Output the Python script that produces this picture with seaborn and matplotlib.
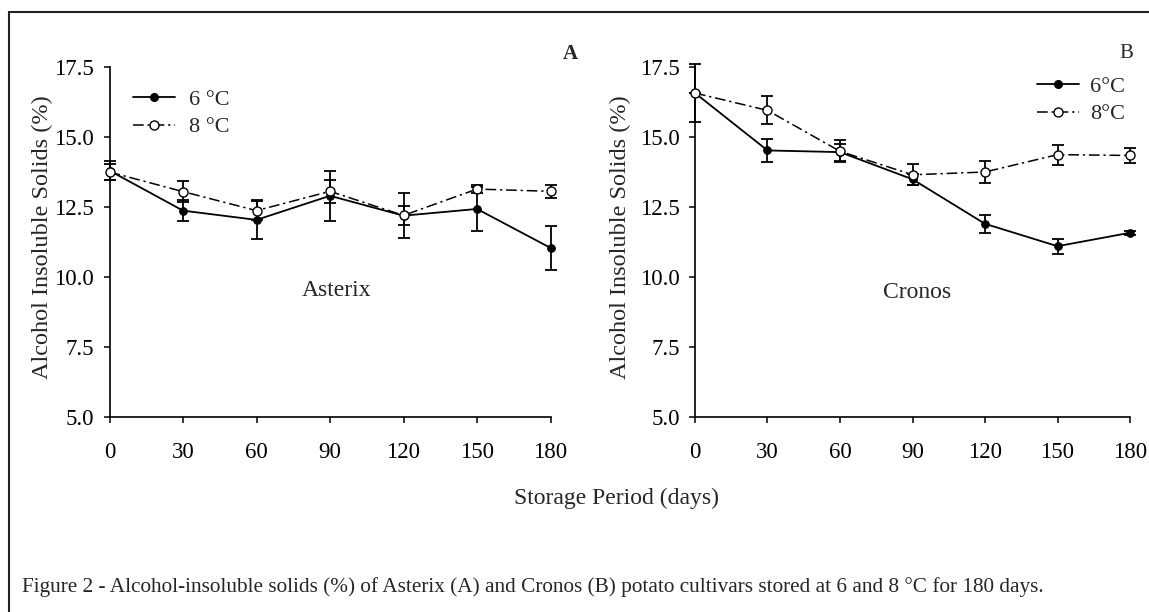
import matplotlib
matplotlib.use("Agg")
import matplotlib.pyplot as plt
from matplotlib.patches import Rectangle
from matplotlib.lines import Line2D
import seaborn as sns
import pandas as pd

days = [0, 30, 60, 90, 120, 150, 180]
asterix_6 = [13.80, 12.37, 12.04, 12.90, 12.19, 12.43, 11.04]
asterix_6_err = [0.33, 0.37, 0.70, 0.90, 0.80, 0.80, 0.79]
asterix_8 = [13.75, 13.05, 12.37, 13.06, 12.20, 13.14, 13.06]
asterix_8_err = [0.30, 0.38, 0.33, 0.40, 0.35, 0.15, 0.24]
cronos_6 = [16.57, 14.52, 14.46, 13.49, 11.90, 11.10, 11.58]
cronos_6_err = [1.05, 0.42, 0.30, 0.20, 0.32, 0.27, 0.08]
cronos_8 = [16.57, 15.95, 14.49, 13.65, 13.75, 14.37, 14.34]
cronos_8_err = [0.00, 0.50, 0.40, 0.37, 0.39, 0.36, 0.27]
yticks = [5.0, 7.5, 10.0, 12.5, 15.0, 17.5]
xticks = [0, 30, 60, 90, 120, 150, 180]

sns.set_theme(style="ticks")
plt.rcParams["font.family"] = ["Liberation Serif", "DejaVu Serif"]
plt.rcParams["mathtext.fontset"] = "stix"

W, H = 1149, 612
fig = plt.figure(figsize=(W / 100, H / 100), dpi=100)
fig.patch.set_facecolor("white")

def fx(px):
    return px / W

def fy(py):
    return 1 - py / H

ax_top, ax_bot = 67, 417
axA = fig.add_axes([fx(109.5), fy(ax_bot), fx(550.5) - fx(109.5), fy(ax_top) - fy(ax_bot)])
axB = fig.add_axes([fx(695), fy(ax_bot), fx(1130) - fx(695), fy(ax_top) - fy(ax_bot)])

dash_style = (0, (7, 2.5, 1.5, 2.5))

def draw(ax, v6, e6, v8, e8):
    df6 = pd.DataFrame({"day": days, "val": v6})
    df8 = pd.DataFrame({"day": days, "val": v8})
    ax.errorbar(days, v6, yerr=e6, fmt="none", ecolor="black", elinewidth=1.3,
                capsize=4, capthick=1.3, clip_on=False, zorder=2)
    ax.errorbar(days, v8, yerr=e8, fmt="none", ecolor="black", elinewidth=1.3,
                capsize=4, capthick=1.3, clip_on=False, zorder=2)
    sns.lineplot(data=df6, x="day", y="val", ax=ax, color="black", linewidth=1.3,
                 marker="o", markersize=5.5, markerfacecolor="black",
                 markeredgecolor="black", clip_on=False, zorder=3, legend=False)
    sns.lineplot(data=df8, x="day", y="val", ax=ax, color="black", linewidth=1.1,
                 linestyle=dash_style, marker="o", markersize=6.5,
                 markerfacecolor="white", markeredgecolor="black",
                 markeredgewidth=1.0, clip_on=False, zorder=4, legend=False)
    ax.set_xlim(0, 180)
    ax.set_ylim(5, 17.5)
    ax.set_xticks(xticks)
    ax.set_yticks(yticks)
    ax.set_xticklabels([str(t) for t in xticks])
    ax.set_yticklabels([f"{t:.1f}" for t in yticks])
    ax.set_xlabel("")
    ax.set_ylabel("")
    for s in ["top", "right"]:
        ax.spines[s].set_visible(False)
    for s in ["left", "bottom"]:
        ax.spines[s].set_linewidth(1.2)
        ax.spines[s].set_color("black")
    ax.tick_params(axis="both", direction="out", length=4, width=1.1,
                   colors="black", labelsize=16.5)
    ax.tick_params(axis="x", pad=14)
    ax.tick_params(axis="y", pad=7)
    ax.set_facecolor("white")
    h6 = Line2D([], [], color="black", linewidth=1.3, marker="o", markersize=5.5,
                markerfacecolor="black")
    h8 = Line2D([], [], color="black", linewidth=1.1, linestyle=dash_style, marker="o",
                markersize=6.5, markerfacecolor="white", markeredgecolor="black")
    return h6, h8

hA6, hA8 = draw(axA, asterix_6, asterix_6_err, asterix_8, asterix_8_err)
hB6, hB8 = draw(axB, cronos_6, cronos_6_err, cronos_8, cronos_8_err)

fig.legend([hA6, hA8], ["6 °C", "8 °C"], loc="center left",
           bbox_to_anchor=(fx(133), fy(113.5)), frameon=False, fontsize=16,
           handlelength=1.9, handletextpad=0.6, labelspacing=0.3,
           borderpad=0, borderaxespad=0)
fig.legend([hB6, hB8], ["6°C", "8°C"], loc="center left",
           bbox_to_anchor=(fx(1037), fy(100.5)), frameon=False, fontsize=16,
           handlelength=1.9, handletextpad=0.5, labelspacing=0.3,
           borderpad=0, borderaxespad=0)

fig.text(fx(570), fy(54), "A", ha="center", va="center", fontsize=15, fontweight="bold")
fig.text(fx(1126), fy(54), "B", ha="center", va="center", fontsize=15)
fig.text(fx(337), fy(290), "Asterix", ha="center", va="center", fontsize=17)
fig.text(fx(917), fy(292), "Cronos", ha="center", va="center", fontsize=17)
fig.text(fx(42), fy(237), "Alcohol Insoluble Solids (%)", rotation=90,
         ha="center", va="center", fontsize=17.5)
fig.text(fx(620), fy(237), "Alcohol Insoluble Solids (%)", rotation=90,
         ha="center", va="center", fontsize=17.5)
fig.text(fx(616), fy(498), "Storage Period (days)", ha="center", va="center", fontsize=17)

cap = fig.text(fx(22), fy(587), "Figure 2 - Alcohol-insoluble solids (%) of Asterix (A) and "
               "Cronos (B) potato cultivars stored at 6 and 8 °C for 180 days.",
               ha="left", va="center", fontsize=14)
renderer = fig.canvas.get_renderer()
wcap = cap.get_window_extent(renderer).width
cap.set_fontsize(14 * 1026 / wcap)

fig.patches.append(Rectangle((fx(9), -0.05), 1.2, fy(12) + 0.05, transform=fig.transFigure,
                             fill=False, edgecolor="#222222", linewidth=1.5, zorder=0))

fig.savefig("out.png", dpi=100, facecolor="white")
